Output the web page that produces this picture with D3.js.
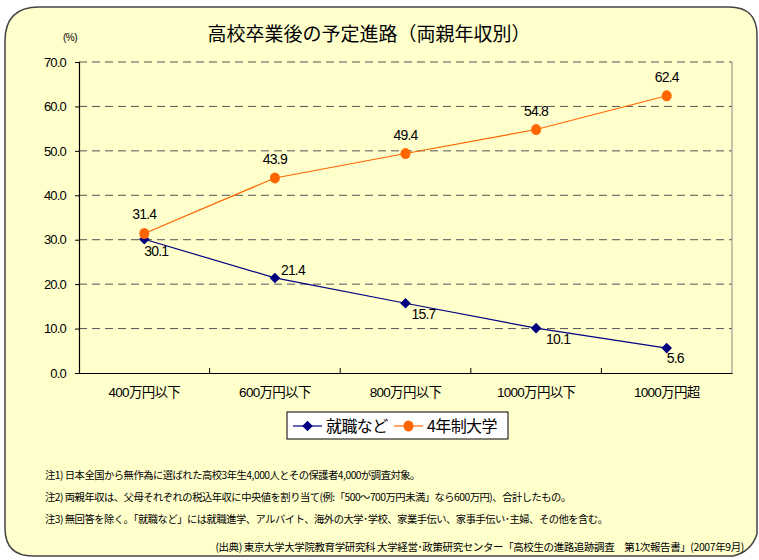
<!DOCTYPE html>
<html>
<head>
<meta charset="utf-8">
<title>高校卒業後の予定進路</title>
<script src="https://cdn.jsdelivr.net/npm/d3@7"></script>
<style>
  body { margin: 0; background: #fff; }
  svg text { font-family: "Liberation Sans", Arial, "Noto Sans CJK JP", sans-serif; fill: #000; }
  .jp { font-family: "Noto Sans CJK JP", sans-serif; }
</style>
</head>
<body>
<div id="chart"></div>
<script>
// data
const categories = ["400万円以下", "600万円以下", "800万円以下", "1000万円以下", "1000万円超"];
const shushoku = [30.1, 21.4, 15.7, 10.1, 5.6];
const daigaku = [31.4, 43.9, 49.4, 54.8, 62.4];
const yTicks = [0, 10, 20, 30, 40, 50, 60, 70];
const notes = [
  "注1) 日本全国から無作為に選ばれた高校3年生4,000人とその保護者4,000が調査対象。",
  "注2) 両親年収は、父母それぞれの税込年収に中央値を割り当て(例:「500～700万円未満」なら600万円)、合計したもの。",
  "注3) 無回答を除く。「就職など」には就職進学、アルバイト、海外の大学･学校、家業手伝い、家事手伝い･主婦、その他を含む。"
];
const source = "(出典) 東京大学大学院教育学研究科 大学経営･政策研究センター「高校生の進路追跡調査　第1次報告書」(2007年9月)";

const W = 759, H = 560;
const svg = d3.select("#chart").append("svg").attr("width", W).attr("height", H);

// panel
const px0 = 5, py0 = 7, px1 = 757, py1 = 556;
svg.append("path")
  .attr("d", `M${px0 + 34},${py0} L${px1 - 28},${py0} Q${px1},${py0} ${px1},${py0 + 28}
              L${px1},${py1 - 22} Q${px1 - 6},${py1 - 4} ${px1 - 24},${py1}
              L${px0 + 28},${py1} Q${px0},${py1} ${px0},${py1 - 28}
              L${px0},${py0 + 34} Q${px0},${py0} ${px0 + 34},${py0} Z`)
  .attr("fill", "#ffffcc").attr("stroke", "#444").attr("stroke-width", 1.5);

// title
svg.append("text").attr("class", "jp").attr("x", 369).attr("y", 41)
  .attr("text-anchor", "middle").attr("font-size", 19)
  .text("高校卒業後の予定進路（両親年収別）");
svg.append("text").attr("x", 70).attr("y", 41).attr("text-anchor", "middle")
  .attr("font-size", 10).attr("letter-spacing", -0.5).text("(%)");

const pLeft = 79, pRight = 732, pTop = 62, pBottom = 373;
const x = d3.scaleBand().domain(categories).range([pLeft, pRight]);
const y = d3.scaleLinear().domain([0, 70]).range([pBottom, pTop]);

// grid
svg.append("g").selectAll("line").data(yTicks.filter(d => d > 0)).join("line")
  .attr("x1", pLeft).attr("x2", pRight)
  .attr("y1", d => y(d)).attr("y2", d => y(d))
  .attr("stroke", "#555").attr("stroke-width", 1).attr("stroke-dasharray", "8,5");
svg.append("line").attr("x1", pRight).attr("x2", pRight).attr("y1", pTop).attr("y2", pBottom)
  .attr("stroke", "#888").attr("stroke-width", 1);

// axes
const yAxis = svg.append("g").attr("transform", `translate(${pLeft},0)`)
  .call(d3.axisLeft(y).tickValues(yTicks).tickFormat(d3.format(".1f")).tickSize(4).tickPadding(9));
yAxis.select(".domain").attr("stroke", "#000").attr("stroke-width", 1.2);
yAxis.selectAll("text").attr("font-size", 13).attr("letter-spacing", -0.8);

const xAxis = svg.append("g").attr("transform", `translate(0,${pBottom})`)
  .call(d3.axisBottom(x).tickSize(0).tickPadding(14));
xAxis.select(".domain").attr("stroke", "#000").attr("stroke-width", 1.2);
xAxis.selectAll("text").attr("font-size", 13.5).attr("letter-spacing", -0.7);
// inner tick marks at category boundaries
svg.append("g").selectAll("line").data(categories.slice(1)).join("line")
  .attr("x1", d => x(d)).attr("x2", d => x(d))
  .attr("y1", pBottom).attr("y2", pBottom - 5)
  .attr("stroke", "#000");

const cx = d => x(d) + x.bandwidth() / 2;
const line = d3.line().x((d, i) => cx(categories[i])).y(d => y(d));

const navy = "#000080", orange = "#ff6600";
const diamond = d3.symbol(d3.symbolSquare, 56);

// 就職など
svg.append("path").datum(shushoku).attr("d", line).attr("fill", "none")
  .attr("stroke", navy).attr("stroke-width", 1.2);
svg.append("g").selectAll("path").data(shushoku).join("path")
  .attr("d", diamond)
  .attr("transform", (d, i) => `translate(${cx(categories[i])},${y(d)}) rotate(45)`)
  .attr("fill", navy);

// 4年制大学
svg.append("path").datum(daigaku).attr("d", line).attr("fill", "none")
  .attr("stroke", orange).attr("stroke-width", 1.2);
svg.append("g").selectAll("ellipse").data(daigaku).join("ellipse")
  .attr("cx", (d, i) => cx(categories[i])).attr("cy", d => y(d))
  .attr("rx", 5).attr("ry", 5.5).attr("fill", orange);

// value labels
const navyOff = [[0, 17], [6, -3], [6, 16], [10, 16], [0, 15]];
svg.append("g").selectAll("text").data(shushoku).join("text")
  .attr("x", (d, i) => cx(categories[i]) + navyOff[i][0])
  .attr("y", (d, i) => y(d) + navyOff[i][1])
  .attr("font-size", 14).attr("letter-spacing", -0.8)
  .text(d => d.toFixed(1));
svg.append("g").selectAll("text").data(daigaku).join("text")
  .attr("x", (d, i) => cx(categories[i]))
  .attr("y", d => y(d) - 14)
  .attr("text-anchor", "middle")
  .attr("font-size", 14).attr("letter-spacing", -0.8)
  .text(d => d.toFixed(1));

// legend
const lg = svg.append("g");
lg.append("rect").attr("x", 287).attr("y", 412).attr("width", 221).attr("height", 27)
  .attr("fill", "#fff").attr("stroke", "#000").attr("stroke-width", 1);
const series = [
  { name: "就職など", color: navy, x: 293 },
  { name: "4年制大学", color: orange, x: 394 }
];
series.forEach(s => {
  lg.append("line").attr("x1", s.x).attr("x2", s.x + 29).attr("y1", 426).attr("y2", 426)
    .attr("stroke", s.color).attr("stroke-width", 1.2);
  if (s.color === navy) {
    lg.append("path").attr("d", diamond)
      .attr("transform", `translate(${s.x + 14.5},426) rotate(45)`).attr("fill", s.color);
  } else {
    lg.append("ellipse").attr("cx", s.x + 14.5).attr("cy", 426).attr("rx", 5).attr("ry", 5.5)
      .attr("fill", s.color);
  }
  lg.append("text").attr("class", "jp").attr("x", s.x + 33).attr("y", 432)
    .attr("font-size", 16).attr("letter-spacing", -0.6).text(s.name);
});

// notes
svg.append("g").selectAll("text").data(notes).join("text")
  .attr("class", "jp").attr("x", 45).attr("y", (d, i) => 479 + i * 22)
  .attr("font-size", 10.3).attr("letter-spacing", -0.5).text(d => d);
svg.append("text").attr("class", "jp").attr("x", 744).attr("y", 551)
  .attr("text-anchor", "end").attr("font-size", 10.5).attr("letter-spacing", -0.4).text(source);
</script>
</body>
</html>
